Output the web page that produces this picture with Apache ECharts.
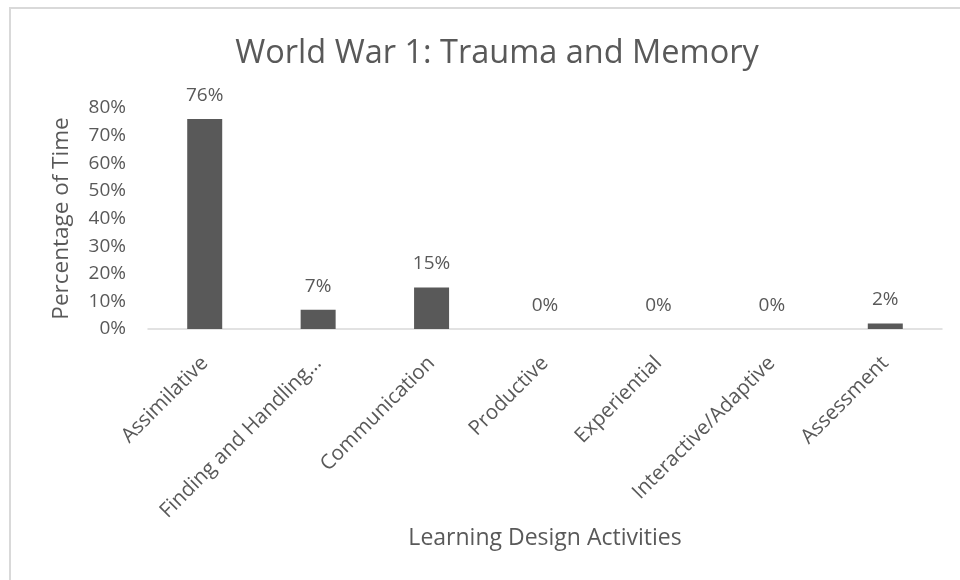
<!DOCTYPE html>
<html>
<head>
<meta charset="utf-8">
<script src="https://cdn.jsdelivr.net/npm/echarts@6/dist/echarts.min.js"></script>
<style>
  html, body { margin: 0; padding: 0; background: #fff; }
  #container { width: 960px; height: 580px; }
</style>
</head>
<body>
<div id="container"></div>
<script>
var categories = ['Assimilative', 'Finding and Handling\u2026', 'Communication', 'Productive',
                  'Experiential', 'Interactive/Adaptive', 'Assessment'];
var percentValues = [76, 7, 15, 0, 0, 0, 2];
var yTicks = [0, 10, 20, 30, 40, 50, 60, 70, 80];

var textColor = '#595959';
var fontName = 'Open Sans';

var dom = document.getElementById('container');
var myChart = echarts.init(dom);
var option = {
    animation: false,
    backgroundColor: '#fff',
    textStyle: { fontFamily: fontName },
    graphic: [{
        type: 'rect',
        shape: { x: 10, y: 8, width: 1000, height: 1000 },
        style: { fill: 'none', stroke: '#d9d9d9', lineWidth: 2 },
        silent: true
    }],
    title: {
        text: 'World War 1: Trauma and Memory',
        left: 492,
        textAlign: 'center',
        top: 32,
        textStyle: { color: textColor, fontSize: 32.5, fontWeight: 'normal', fontFamily: fontName }
    },
    grid: { left: 148, right: 18, top: 108, bottom: 251 },
    xAxis: {
        type: 'category',
        data: categories,
        name: 'Learning Design Activities',
        nameLocation: 'middle',
        nameGap: 198,
        nameTextStyle: { color: textColor, fontSize: 23 },
        axisLine: { lineStyle: { color: '#d9d9d9', width: 1.5 } },
        axisTick: { show: false },
        axisLabel: { rotate: 45, margin: 31, color: textColor, fontSize: 20.5, interval: 0 }
    },
    yAxis: {
        type: 'value',
        min: yTicks[0],
        max: yTicks[yTicks.length - 1],
        interval: yTicks[1] - yTicks[0],
        name: 'Percentage of Time',
        nameLocation: 'middle',
        nameGap: 75,
        nameTextStyle: { color: textColor, fontSize: 22.5 },
        axisLine: { show: false },
        axisTick: { show: false },
        splitLine: { show: false },
        axisLabel: { formatter: '{value}%', color: textColor, fontSize: 19, margin: 22 }
    },
    series: [{
        type: 'bar',
        data: percentValues,
        barWidth: 35,
        itemStyle: { color: '#595959' },
        label: {
            show: true,
            position: 'top',
            distance: 14,
            formatter: '{c}%',
            color: textColor,
            fontSize: 19
        }
    }]
};
myChart.setOption(option, true);
</script>
</body>
</html>
